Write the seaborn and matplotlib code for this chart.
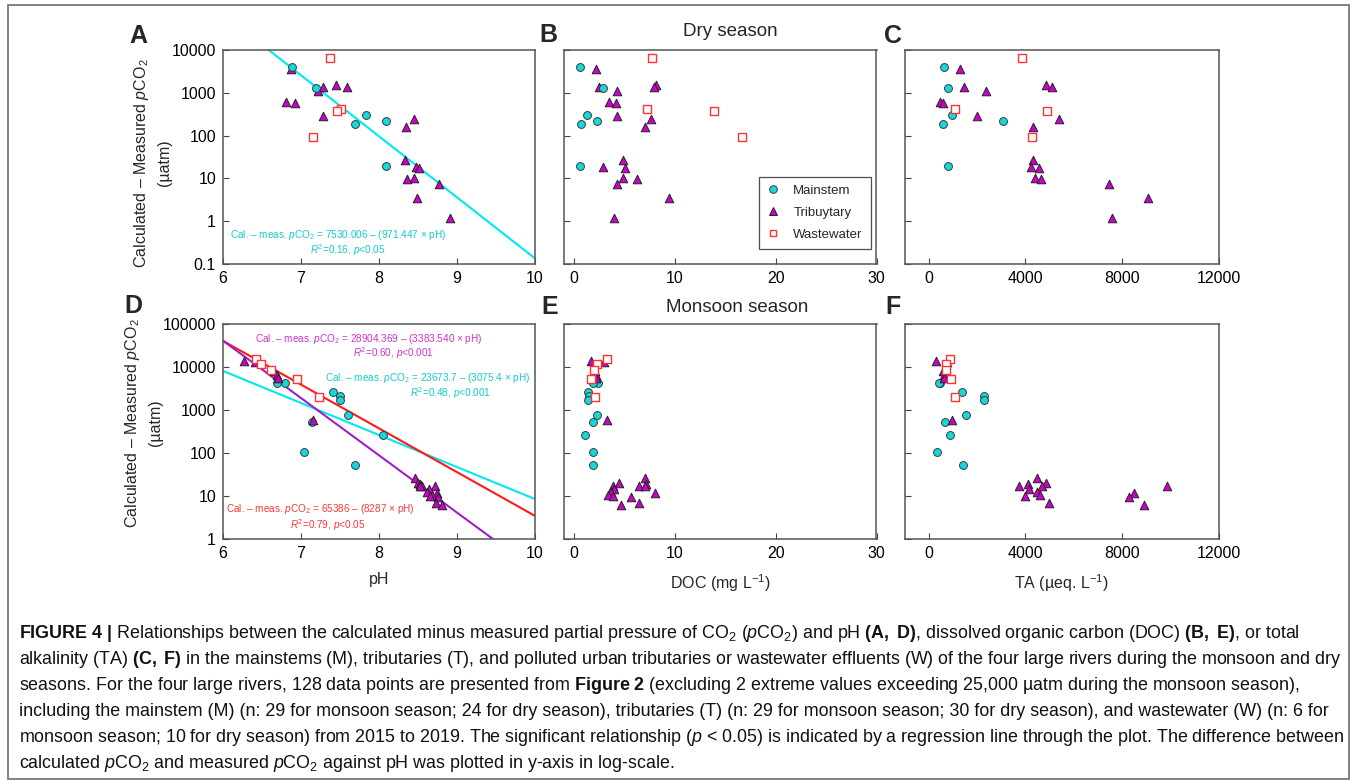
import numpy as np
import matplotlib
matplotlib.use("Agg")
import matplotlib.pyplot as plt
import seaborn as sns
from matplotlib.lines import Line2D
from matplotlib.patches import Rectangle
from matplotlib.ticker import NullLocator

# ---------------- data: dry season ----------------
dry_main_ph = [6.88, 7.19, 7.83, 8.09, 7.69, 8.09]
dry_main_doc = [0.60, 2.91, 1.26, 2.25, 0.66, 0.60]
dry_main_ta = [650, 815, 980, 3095, 595, 790]
dry_main_dpco2 = [4100, 1300, 305, 222, 190, 20]

dry_trib_ph = [6.87, 7.45, 7.59, 7.29, 7.22, 6.81, 6.92, 7.29, 8.45, 8.35,
               8.34, 8.48, 8.52, 8.45, 8.36, 8.78, 8.49, 8.91]
dry_trib_doc = [2.15, 8.10, 7.97, 2.48, 4.23, 3.44, 4.17, 4.23, 7.64, 7.07,
                4.83, 2.88, 5.06, 4.86, 6.21, 4.30, 9.45, 3.93]
dry_trib_ta = [1300, 4860, 5100, 1465, 2365, 470, 580, 1990, 5390, 4340,
               4300, 4240, 4560, 4410, 4670, 7475, 9090, 7590]
dry_trib_dpco2 = [3650, 1550, 1380, 1350, 1110, 605, 565, 280, 245, 162,
                  27, 18.5, 17.5, 10.4, 9.7, 7.6, 3.4, 1.2]

dry_waste_ph = [7.38, 7.52, 7.47, 7.15]
dry_waste_doc = [7.77, 7.21, 13.92, 16.66]
dry_waste_ta = [3870, 1080, 4890, 4280]
dry_waste_dpco2 = [6500, 408, 377, 94]

# ---------------- data: monsoon season ----------------
mon_main_ph = [6.69, 6.79, 7.41, 7.50, 7.50, 7.60, 7.14, 8.06, 7.04, 7.70]
mon_main_doc = [2.38, 1.91, 1.39, 1.50, 1.39, 2.24, 1.88, 1.05, 1.88, 1.88]
mon_main_ta = [476, 420, 1367, 2299, 2274, 1563, 669, 878, 351, 1409]
mon_main_dpco2 = [4250, 4090, 2550, 2060, 1660, 750, 520, 262, 104, 53.5]

mon_trib_ph = [6.27, 6.41, 6.65, 6.69, 6.71, 7.16, 8.46, 8.51, 8.53, 8.72,
               8.55, 8.53, 8.64, 8.62, 8.75, 8.68, 8.66, 8.76, 8.74, 8.81]
mon_trib_doc = [1.65, 2.97, 2.11, 2.20, 2.21, 3.23, 7.07, 4.50, 7.14, 6.40,
                3.90, 7.00, 3.99, 3.70, 8.06, 3.33, 3.83, 5.65, 6.40, 4.66]
mon_trib_ta = [309, 752, 614, 640, 656, 978, 4489, 4878, 4096, 9882,
               3720, 4698, 4138, 4489, 8502, 4627, 3988, 8276, 4991, 8903]
mon_trib_dpco2 = [13550, 12840, 7790, 6300, 5540, 565, 26.7, 20, 18.7, 17.4,
                  17.1, 17.1, 14.1, 12.6, 11.5, 10.7, 10, 9.3, 6.9, 6.2]

mon_waste_ph = [6.42, 6.49, 6.61, 6.95, 7.23]
mon_waste_doc = [3.25, 2.31, 1.97, 1.72, 2.11]
mon_waste_ta = [878, 727, 700, 936, 1108]
mon_waste_dpco2 = [15400, 11800, 8400, 5050, 2000]

# regression lines as drawn on the log axis: log10(y) = a + b * (pH - 6)
fit_dry_main = (4.836, -1.424)
fit_mon_trib = (4.600, -1.327)
fit_mon_main = (3.899, -0.742)
fit_mon_waste = (4.597, -1.0135)

legend_labels = ["Mainstem", "Tribuytary", "Wastewater"]

# ---------------- style ----------------
sns.set_style("ticks")
plt.rcParams['font.family'] = ['Liberation Sans', 'DejaVu Sans']
plt.rcParams['mathtext.fontset'] = 'custom'
plt.rcParams['mathtext.rm'] = 'Liberation Sans'
plt.rcParams['mathtext.it'] = 'Liberation Sans:italic'
plt.rcParams['mathtext.bf'] = 'Liberation Sans:bold'

C_MAIN = '#14D8DC'
C_TRIB = '#CC00CC'
C_WASTE = '#FF3333'
C_LINE_CYAN = '#00E8F0'
C_LINE_RED = '#FF1A1A'
C_LINE_PURPLE = '#A01EC8'
C_TXT_CYAN = '#12CCCC'
C_TXT_MAG = '#CC33CC'
C_TXT_RED = '#FF3535'
SPINE = '#555555'

W, H = 1356, 783
fig = plt.figure(figsize=(W / 100, H / 100), dpi=100)
fig.patch.set_facecolor('white')


def px_axes(x0, x1, y0, y1):
    return fig.add_axes([x0 / W, 1 - y1 / H, (x1 - x0) / W, (y1 - y0) / H])


cols = [(223, 534.5), (564, 876.5), (904.5, 1218.5)]
rows = [(50, 264), (323.5, 539)]

axA = px_axes(*cols[0], *rows[0])
axB = px_axes(*cols[1], *rows[0])
axC = px_axes(*cols[2], *rows[0])
axD = px_axes(*cols[0], *rows[1])
axE = px_axes(*cols[1], *rows[1])
axF = px_axes(*cols[2], *rows[1])


def scatter(ax, x, y, kind, z):
    if kind == 'main':
        sns.scatterplot(x=x, y=y, ax=ax, marker='o', s=32, color=C_MAIN,
                        edgecolor='#3a3a3a', linewidth=0.7, zorder=z, legend=False)
    elif kind == 'trib':
        sns.scatterplot(x=x, y=y, ax=ax, marker='^', s=38, color=C_TRIB,
                        edgecolor='#222222', linewidth=0.7, zorder=z, legend=False)
    else:
        sns.scatterplot(x=x, y=y, ax=ax, marker='s', s=28, color='white',
                        edgecolor=C_WASTE, linewidth=1.0, zorder=z, legend=False)


def fit_line(ax, fit, color):
    xs = np.linspace(6, 10, 200)
    ys = 10 ** (fit[0] + fit[1] * (xs - 6))
    sns.lineplot(x=xs, y=ys, ax=ax, color=color, linewidth=1.5, zorder=2)


def style_axis(ax, ylim, yticks, ylabels, xlim, xticks):
    ax.set_yscale('log')
    ax.set_ylim(*ylim)
    ax.set_xlim(*xlim)
    ax.set_yticks(yticks)
    if ylabels:
        ax.set_yticklabels([str(t) if t < 1 else str(int(t)) for t in yticks])
    else:
        ax.set_yticklabels([])
    ax.yaxis.set_minor_locator(NullLocator())
    ax.set_xticks(xticks)
    ax.set_xticklabels([str(t) for t in xticks])
    ax.tick_params(direction='in', length=4, width=0.8, colors='#444444',
                   labelcolor='black', labelsize=11.5, pad=5,
                   top=False, right=False)
    for s in ax.spines.values():
        s.set_color(SPINE)
        s.set_linewidth(1.1)
    ax.set_xlabel('')
    ax.set_ylabel('')


dry_ylim = (0.1, 10000)
dry_yt = [0.1, 1, 10, 100, 1000, 10000]
mon_ylim = (1, 100000)
mon_yt = [1, 10, 100, 1000, 10000, 100000]

# ---- dry season row ----
for ax in (axA, axB, axC):
    ax.set_yscale('log')
fit_line(axA, fit_dry_main, C_LINE_CYAN)
for ax, xs in ((axA, (dry_trib_ph, dry_main_ph, dry_waste_ph)),
               (axB, (dry_trib_doc, dry_main_doc, dry_waste_doc)),
               (axC, (dry_trib_ta, dry_main_ta, dry_waste_ta))):
    scatter(ax, xs[0], dry_trib_dpco2, 'trib', 3)
    scatter(ax, xs[1], dry_main_dpco2, 'main', 4)
    scatter(ax, xs[2], dry_waste_dpco2, 'waste', 5)

style_axis(axA, dry_ylim, dry_yt, True, (6, 10), [6, 7, 8, 9, 10])
style_axis(axB, dry_ylim, dry_yt, False, (-1, 30), [0, 10, 20, 30])
style_axis(axC, dry_ylim, dry_yt, False, (-1000, 12000), [0, 4000, 8000, 12000])

# ---- monsoon row ----
for ax in (axD, axE, axF):
    ax.set_yscale('log')
fit_line(axD, fit_mon_main, C_LINE_CYAN)
fit_line(axD, fit_mon_waste, C_LINE_RED)
fit_line(axD, fit_mon_trib, C_LINE_PURPLE)
for ax, xs in ((axD, (mon_main_ph, mon_trib_ph, mon_waste_ph)),
               (axE, (mon_main_doc, mon_trib_doc, mon_waste_doc)),
               (axF, (mon_main_ta, mon_trib_ta, mon_waste_ta))):
    scatter(ax, xs[0], mon_main_dpco2, 'main', 3)
    scatter(ax, xs[1], mon_trib_dpco2, 'trib', 4)
    scatter(ax, xs[2], mon_waste_dpco2, 'waste', 5)

style_axis(axD, mon_ylim, mon_yt, True, (6, 10), [6, 7, 8, 9, 10])
style_axis(axE, mon_ylim, mon_yt, False, (-1, 30), [0, 10, 20, 30])
style_axis(axF, mon_ylim, mon_yt, False, (-1000, 12000), [0, 4000, 8000, 12000])

# ---- axis labels ----
ylab = "Calculated – Measured $p$CO$_2$\n(µatm)"
for ax, xc, yc in ((axA, -0.164, 0.472), (axD, -0.193, 0.538)):
    ax.set_ylabel(ylab, fontsize=11.5, linespacing=1.5)
    ax.yaxis.set_label_coords(xc, yc)
axD.set_xlabel("pH", fontsize=11.5, labelpad=8)
axE.set_xlabel("DOC (mg L$^{-1}$)", fontsize=11.5, labelpad=8)
axF.set_xlabel("TA (µeq. L$^{-1}$)", fontsize=11.5, labelpad=8)

# ---- equations ----
ann = 7.2
axA.text(0.37, 0.135, "Cal. – meas. $p$CO$_2$ = 7530.006 – (971.447 × pH)",
         transform=axA.transAxes, ha='center', va='center', color=C_TXT_CYAN, fontsize=ann)
axA.text(0.40, 0.065, "$R^2$=0.16, $p$<0.05",
         transform=axA.transAxes, ha='center', va='center', color=C_TXT_CYAN, fontsize=ann)

axD.text(0.468, 0.929, "Cal. – meas. $p$CO$_2$ = 28904.369 – (3383.540 × pH)",
         transform=axD.transAxes, ha='center', va='center', color=C_TXT_MAG, fontsize=ann)
axD.text(0.546, 0.863, "$R^2$=0.60, $p$<0.001",
         transform=axD.transAxes, ha='center', va='center', color=C_TXT_MAG, fontsize=ann)
axD.text(0.656, 0.749, "Cal. – meas. $p$CO$_2$ = 23673.7 – (3075.4 × pH)",
         transform=axD.transAxes, ha='center', va='center', color=C_TXT_CYAN, fontsize=ann)
axD.text(0.729, 0.678, "$R^2$=0.48, $p$<0.001",
         transform=axD.transAxes, ha='center', va='center', color=C_TXT_CYAN, fontsize=ann)
axD.text(0.312, 0.138, "Cal. – meas. $p$CO$_2$ = 65386 – (8287 × pH)",
         transform=axD.transAxes, ha='center', va='center', color=C_TXT_RED, fontsize=ann)
axD.text(0.337, 0.064, "$R^2$=0.79, $p$<0.05",
         transform=axD.transAxes, ha='center', va='center', color=C_TXT_RED, fontsize=ann)

# ---- legend (panel B) ----
handles = [
    Line2D([], [], linestyle='none', marker='o', markersize=5.5, markerfacecolor=C_MAIN,
           markeredgecolor='#3a3a3a', markeredgewidth=0.7),
    Line2D([], [], linestyle='none', marker='^', markersize=6, markerfacecolor=C_TRIB,
           markeredgecolor='#222222', markeredgewidth=0.7),
    Line2D([], [], linestyle='none', marker='s', markersize=5, markerfacecolor='white',
           markeredgecolor=C_WASTE, markeredgewidth=1.0),
]
leg = axB.legend(handles, legend_labels, loc='lower right', bbox_to_anchor=(0.981, 0.07),
                 borderaxespad=0, frameon=True, fancybox=False, fontsize=9.5,
                 handlelength=1.0, handletextpad=1.0, labelspacing=0.75,
                 borderpad=0.6, edgecolor='#222222')
leg.get_frame().set_linewidth(0.9)

# ---- panel letters and titles ----
for letter, x, y in (("A", 138, 36), ("B", 548, 35), ("C", 893, 36),
                     ("D", 133, 306), ("E", 550, 307), ("F", 893, 307)):
    fig.text(x / W, 1 - y / H, letter, ha='center', va='center',
             fontsize=18, fontweight='bold')
fig.text(730 / W, 1 - 31.5 / H, "Dry season", ha='center', va='center', fontsize=13.5)
fig.text(737 / W, 1 - 307 / H, "Monsoon season", ha='center', va='center', fontsize=13.5)

# ---- caption ----
caption_lines = [
    r"$\mathbf{FIGURE\ 4\ |}$ Relationships between the calculated minus measured partial pressure of CO$_2$ ($p$CO$_2$) and pH $\mathbf{(A,\ D)}$, dissolved organic carbon (DOC) $\mathbf{(B,\ E)}$, or total",
    r"alkalinity (TA) $\mathbf{(C,\ F)}$ in the mainstems (M), tributaries (T), and polluted urban tributaries or wastewater effluents (W) of the four large rivers during the monsoon and dry",
    r"seasons. For the four large rivers, 128 data points are presented from $\mathbf{Figure\ 2}$ (excluding 2 extreme values exceeding 25,000 µatm during the monsoon season),",
    r"including the mainstem (M) (n: 29 for monsoon season; 24 for dry season), tributaries (T) (n: 29 for monsoon season; 30 for dry season), and wastewater (W) (n: 6 for",
    r"monsoon season; 10 for dry season) from 2015 to 2019. The significant relationship ($p$ < 0.05) is indicated by a regression line through the plot. The difference between",
    r"calculated $p$CO$_2$ and measured $p$CO$_2$ against pH was plotted in y-axis in log-scale.",
]
for i, line in enumerate(caption_lines):
    fig.text(19 / W, 1 - (638 + i * 26) / H, line, ha='left', va='baseline',
             fontsize=12.9, color='#111111')

# ---- outer border ----
fig.patches.append(Rectangle((8 / W, 4 / H), (1349 - 8) / W, (779 - 5) / H,
                             transform=fig.transFigure, fill=False,
                             edgecolor='#777777', linewidth=1.3))

fig.savefig("out.png", dpi=100, facecolor='white')
